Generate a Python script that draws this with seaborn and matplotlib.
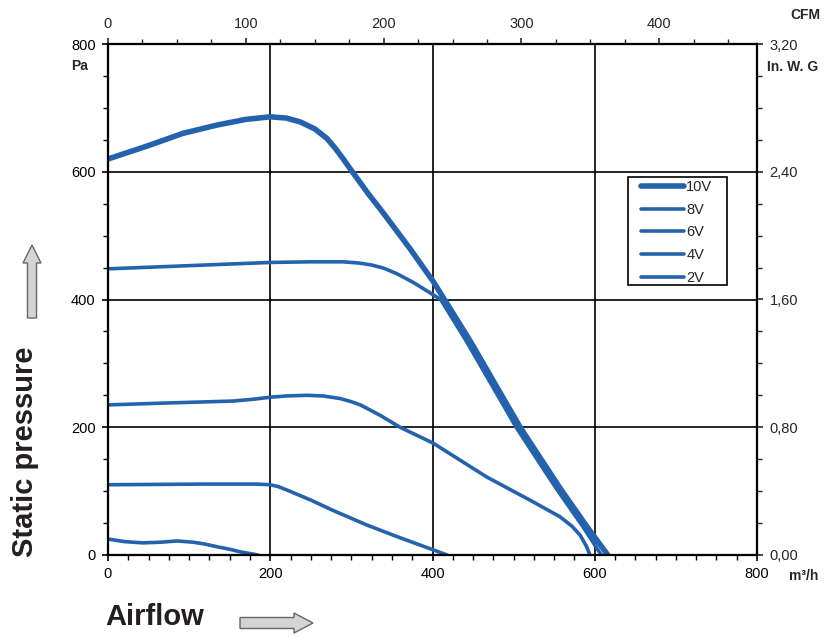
import numpy as np
import pandas as pd
import matplotlib
matplotlib.use("Agg")
import matplotlib.pyplot as plt
from matplotlib.patches import FancyArrow, Rectangle
from matplotlib.ticker import MultipleLocator, FuncFormatter
import seaborn as sns

# Fan curves (airflow m3/h, static pressure Pa)
v10_flow = [0, 50, 92, 134, 170, 200, 220, 237, 255, 270, 280, 290, 300, 320, 339, 372, 401, 446, 508, 557, 590, 616]
v10_pres = [620, 641, 660, 673, 682, 686, 684, 678, 667, 652, 637, 620, 602, 567, 536, 480, 428, 336, 200, 105, 45, 0]

v8_flow = [0, 100, 200, 250, 290, 310, 325, 340, 355, 376, 395, 410, 443, 503, 552, 585, 608]
v8_pres = [448, 453, 458, 459, 459, 457, 454, 449, 441, 427, 412, 400, 332, 200, 105, 45, 0]

v6_flow = [0, 73, 154, 180, 200, 220, 245, 265, 286, 300, 311, 335, 360, 401, 467, 520, 557, 572, 582, 590, 594]
v6_pres = [235, 238, 241, 244, 247, 249, 250, 249, 245, 240, 235, 219, 200, 175, 122, 86, 60, 45, 31, 13, 0]

v4_flow = [0, 113, 184, 200, 210, 220, 250, 277, 319, 360, 401, 418]
v4_pres = [110, 111, 111, 110, 107, 102, 86, 70, 47, 27, 8, 0]

v2_flow = [0, 20, 43, 65, 85, 105, 120, 134, 150, 163, 185]
v2_pres = [25, 21, 19, 20, 22, 20, 17, 13, 9, 5, 0]

labels = ["10V", "8V", "6V", "4V", "2V"]
flows = [v10_flow, v8_flow, v6_flow, v4_flow, v2_flow]
pressures = [v10_pres, v8_pres, v6_pres, v4_pres, v2_pres]
widths = [4.0, 2.6, 2.6, 2.6, 2.6]

blue = "#2462ad"

sns.set_theme(style="ticks")
plt.rcParams["font.family"] = ["Liberation Sans", "DejaVu Sans"]

fig = plt.figure(figsize=(8.26, 6.37), dpi=100)
ax = fig.add_axes([108 / 826, 82 / 637, 649 / 826, 511 / 637])

for lab, fx, py, lw in zip(labels, flows, pressures, widths):
    df = pd.DataFrame({"flow": fx, "pres": py})
    sns.lineplot(data=df, x="flow", y="pres", ax=ax, color=blue, lw=lw,
                 sort=False, label=lab, solid_capstyle="round", solid_joinstyle="round")

ax.set_xlim(0, 800)
ax.set_ylim(0, 800)
ax.set_xlabel("")
ax.set_ylabel("")
ax.xaxis.set_major_locator(MultipleLocator(200))
ax.xaxis.set_minor_locator(MultipleLocator(25))
ax.yaxis.set_major_locator(MultipleLocator(200))
ax.yaxis.set_minor_locator(MultipleLocator(50))
ax.grid(which="major", color="black", lw=1.2)
ax.tick_params(which="major", length=4, width=1.2, pad=5, labelsize=10.5, colors="black")
ax.tick_params(which="minor", length=3.5, width=1.0, colors="black")
for s in ax.spines.values():
    s.set_color("black")
    s.set_linewidth(1.5)
    s.set_visible(True)

# secondary axes: CFM on top, inches of water on the right
top = ax.twiny()
top.set_xlim(0, 800 / 1.699)
top.xaxis.set_major_locator(MultipleLocator(100))
top.xaxis.set_minor_locator(MultipleLocator(25))
top.tick_params(which="major", length=4, width=1.2, pad=5, labelsize=10.5)
top.tick_params(which="minor", length=3.5, width=1.0)

right = ax.twinx()
right.set_ylim(0, 3.2)
right.yaxis.set_major_locator(MultipleLocator(0.8))
right.yaxis.set_minor_locator(MultipleLocator(0.2))
right.yaxis.set_major_formatter(FuncFormatter(lambda v, p: f"{v:.2f}".replace(".", ",")))
right.tick_params(which="major", length=4, width=1.2, pad=5, labelsize=10.5)
right.tick_params(which="minor", length=3.5, width=1.0)
for a in (top, right):
    for s in a.spines.values():
        s.set_color("black")
        s.set_linewidth(1.5)

# legend without its own frame, box drawn separately to get the wide padding
leg = ax.legend(loc="upper left", bbox_to_anchor=((641 - 108) / 649, (555 - 180) / 511),
                fontsize=10.5, frameon=False,
                handlelength=2.95, handletextpad=0.15, labelspacing=0.6,
                borderpad=0, borderaxespad=0)
for h in leg.get_lines():
    h.set_solid_capstyle("round")
ax.add_patch(Rectangle(((628 - 108) / 649, (555 - 285) / 511), 99 / 649, 108 / 511,
                       transform=ax.transAxes, fill=False, edgecolor="black", lw=1.2,
                       zorder=5, clip_on=False))

# unit labels
fig.text(80 / 826, 1 - 66 / 637, "Pa", ha="center", va="center", fontsize=10, fontweight="bold")
fig.text(767 / 826, 1 - 67 / 637, "In. W. G", ha="left", va="center", fontsize=10, fontweight="bold")
fig.text(790 / 826, 1 - 15 / 637, "CFM", ha="left", va="center", fontsize=10, fontweight="bold")
fig.text(789 / 826, 1 - 576 / 637, "m³/h", ha="left", va="center", fontsize=10, fontweight="bold")

# big axis titles with arrows
fig.text(25 / 826, 1 - 452 / 637, "Static pressure", rotation=90, ha="center", va="center",
         fontsize=21, fontweight="bold", color="#231f20")
fig.text(155 / 826, 1 - 617 / 637, "Airflow", ha="center", va="center",
         fontsize=21, fontweight="bold", color="#231f20")

arrow_kw = dict(length_includes_head=True, facecolor="#d4d4d4", edgecolor="#666666",
                lw=1.0, transform=fig.dpi_scale_trans)
fig.patches.append(FancyArrow(0.32, (637 - 318) / 100, 0, 0.73, width=0.09,
                              head_width=0.18, head_length=0.18, **arrow_kw))
fig.patches.append(FancyArrow(2.40, (637 - 623) / 100, 0.73, 0, width=0.11,
                              head_width=0.2, head_length=0.19, **arrow_kw))

fig.savefig("out.png", dpi=100)
